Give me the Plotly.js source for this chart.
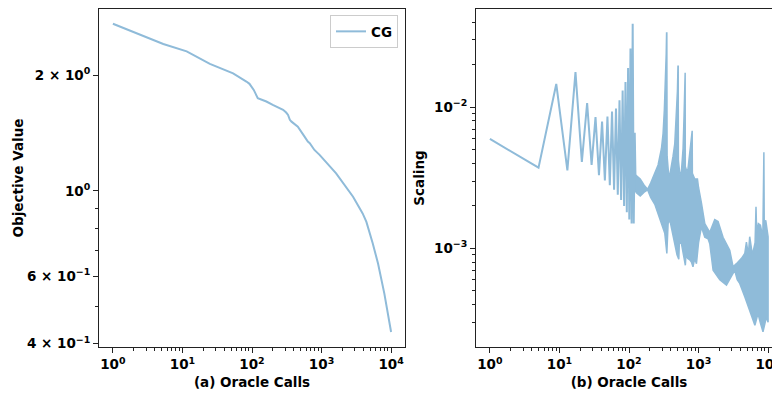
<!DOCTYPE html>
<html>
<head>
<meta charset="utf-8">
<script src="https://cdn.plot.ly/plotly-3.0.1.min.js"></script>
<style>
html,body{margin:0;padding:0;overflow:hidden;background:#fff;}
#chart{width:800px;height:395px;}
</style>
</head>
<body>
<div id="chart"></div>
<script>
// ---- Left panel: CG objective value vs oracle calls ----
const objCalls = [1, 2, 5.3, 11.5, 24.8, 53.5, 66, 83, 92, 106, 121, 161, 199, 280, 310, 330, 350, 370, 456, 527, 560, 635, 677, 790, 937, 1620, 2520, 2838, 3900, 4416, 5440, 6490, 8000, 10000];
const objValue = [2.72, 2.59, 2.41, 2.305, 2.14, 2.02, 1.976, 1.924, 1.898, 1.83, 1.742, 1.707, 1.673, 1.624, 1.598, 1.575, 1.53, 1.513, 1.469, 1.406, 1.39, 1.343, 1.33, 1.277, 1.24, 1.11, 0.994, 0.965, 0.873, 0.83, 0.730, 0.647, 0.540, 0.429];

// ---- Right panel: scaling vs oracle calls ----
// early, resolvable zig-zag
const scaleCalls = [1,5,9,13,17,21,25,29,33,37,41,45,49,53,57,61,65,69,73,77,81,85,89,93,97,101,105,109,113,117,121,125];
const scaleValue = [0.00596,0.00373,0.0146,0.00357,0.0177,0.0041,0.0107,0.0039,0.0085,0.0033,0.0079,0.00303,0.0086,0.0028,0.0093,0.0026,0.0098,0.0024,0.0112,0.0022,0.0131,0.002,0.0151,0.0018,0.0189,0.0016,0.026,0.0015,0.039,0.0015,0.0066,0.0025];
// dense oscillation region: upper and lower envelope
const bandHiCalls = [125,145,165,185,205,235,262,293,309,322,334,343,347,350,353,370,386,410,430,455,481,497,506,510,513,540,567,599,619,632,638,642,645,680,707,748,785,803,810,815,881,964,1000,1100,1230,1450,1710,1910,2250,2810,3140,3510,4140,4620,4880,5200,5440,5950,6500,6700,6850,7240,7760,8400,8600,8700,8800,9250,10000];
const bandHiValue = [0.0033,0.0031,0.0028,0.00262,0.0029,0.0034,0.0039,0.0051,0.0065,0.0095,0.0148,0.024,0.0335,0.0335,0.0045,0.0034,0.0033,0.0038,0.0045,0.0055,0.0085,0.013,0.0195,0.0195,0.0042,0.0033,0.0035,0.0051,0.0087,0.012,0.0175,0.0175,0.0038,0.0035,0.0037,0.0048,0.0058,0.0068,0.0068,0.0034,0.0031,0.0031,0.0027,0.0021,0.0015,0.0013,0.0016,0.00155,0.0012,0.00097,0.00074,0.00078,0.00085,0.00092,0.00111,0.0009,0.00121,0.0009,0.0011,0.00197,0.0013,0.0015,0.00146,0.0012,0.0048,0.0048,0.0015,0.00158,0.00121];
const bandLoCalls = [125,145,165,185,205,235,262,293,327,350,357,365,386,430,490,520,530,568,600,646,660,700,748,790,832,880,933,1000,1100,1230,1370,1450,1620,2020,2520,2970,3310,3600,3910,4620,5440,6460,7160,7700,8450,9000,9450,10000];
const bandLoValue = [0.0025,0.00235,0.0025,0.0026,0.0023,0.00205,0.0017,0.0015,0.00128,0.00092,0.00093,0.0015,0.00159,0.00121,0.0009,0.00084,0.0011,0.00108,0.0009,0.00076,0.0009,0.00085,0.00083,0.0008,0.00074,0.00085,0.00078,0.0011,0.00142,0.0012,0.00117,0.00108,0.0007,0.0006,0.00055,0.00063,0.0007,0.0006,0.000565,0.000454,0.000366,0.000286,0.000346,0.0003,0.000257,0.0003,0.000327,0.0003];

// ---- tick labels ----
const xTickVals = [1, 10, 100, 1000, 10000];
const xTickText = ['10<sup>0</sup>','10<sup>1</sup>','10<sup>2</sup>','10<sup>3</sup>','10<sup>4</sup>'];
const yLeftTickVals = [0.4, 0.6, 1, 2];
const yLeftTickText = ['4 × 10<sup>−1</sup>','6 × 10<sup>−1</sup>','10<sup>0</sup>','2 × 10<sup>0</sup>'];
const yRightTickVals = [0.001, 0.01];
const yRightTickText = ['10<sup>−3</sup>','10<sup>−2</sup>'];

const lineColor = '#8fbbd9';
const W = 800;

function minorLog(lo, hi) {
  const out = [];
  for (let e = lo; e <= hi; e++) for (let m = 2; m <= 9; m++) out.push(m * Math.pow(10, e));
  return out;
}

const font = {family: 'DejaVu Sans', size: 13.5, color: '#000', weight: 'bold'};

const axBase = {
  type: 'log', showgrid: false, zeroline: false, showline: true, mirror: true,
  linecolor: '#222', linewidth: 1, ticks: 'outside', ticklen: 5, tickwidth: 1,
  tickcolor: '#222', tickfont: font, automargin: false, tickmode: 'array'
};

const bandX = bandHiCalls.concat(bandLoCalls.slice().reverse());
const bandY = bandHiValue.concat(bandLoValue.slice().reverse());

const data = [
  {x: objCalls, y: objValue, type: 'scatter', mode: 'lines', name: 'CG',
   line: {color: lineColor, width: 2}, xaxis: 'x', yaxis: 'y'},
  {x: scaleCalls, y: scaleValue, type: 'scatter', mode: 'lines', showlegend: false,
   line: {color: lineColor, width: 2}, xaxis: 'x2', yaxis: 'y2'},
  {x: bandX, y: bandY, type: 'scatter', mode: 'lines', showlegend: false, fill: 'toself',
   fillcolor: lineColor, line: {color: lineColor, width: 1.5}, xaxis: 'x2', yaxis: 'y2'}
];

const layout = {
  width: W, height: 395,
  margin: {l: 0, r: 0, t: 9, b: 48},
  paper_bgcolor: '#fff', plot_bgcolor: '#fff',
  showlegend: true,
  legend: {x: 398 / W, xanchor: 'right', y: 0.982, yanchor: 'top', itemwidth: 30,
           bgcolor: '#fff', bordercolor: '#cccccc', borderwidth: 1, font: font},
  xaxis: Object.assign({}, axBase, {
    domain: [99 / W, 405 / W], range: [-0.2, 4.2], anchor: 'y',
    tickvals: xTickVals, ticktext: xTickText,
    minor: {tickmode: 'array', tickvals: minorLog(0, 3), ticks: 'outside', ticklen: 3, tickcolor: '#222'},
    title: {text: '(a) Oracle Calls', font: font, standoff: 6}
  }),
  yaxis: Object.assign({}, axBase, {
    domain: [0, 1], range: [-0.4065, 0.473], anchor: 'x',
    tickvals: yLeftTickVals, ticktext: yLeftTickText,
    minor: {tickmode: 'array', tickvals: [0.5, 0.7, 0.8, 0.9], ticks: 'outside', ticklen: 3, tickcolor: '#222'},
    title: {text: 'Objective Value', font: font, standoff: 0}
  }),
  xaxis2: Object.assign({}, axBase, {
    domain: [476 / W, 782 / W], range: [-0.2, 4.2], anchor: 'y2',
    tickvals: xTickVals, ticktext: xTickText,
    minor: {tickmode: 'array', tickvals: minorLog(0, 3), ticks: 'outside', ticklen: 3, tickcolor: '#222'},
    title: {text: '(b) Oracle Calls', font: font, standoff: 6}
  }),
  yaxis2: Object.assign({}, axBase, {
    domain: [0, 1], range: [-3.698, -1.305], anchor: 'x2',
    tickvals: yRightTickVals, ticktext: yRightTickText,
    minor: {tickmode: 'array', tickvals: minorLog(-4, -2), ticks: 'outside', ticklen: 3, tickcolor: '#222'},
    title: {text: 'Scaling', font: font, standoff: 6}
  })
};

Plotly.newPlot('chart', data, layout, {displayModeBar: false, staticPlot: true});
</script>
</body>
</html>
